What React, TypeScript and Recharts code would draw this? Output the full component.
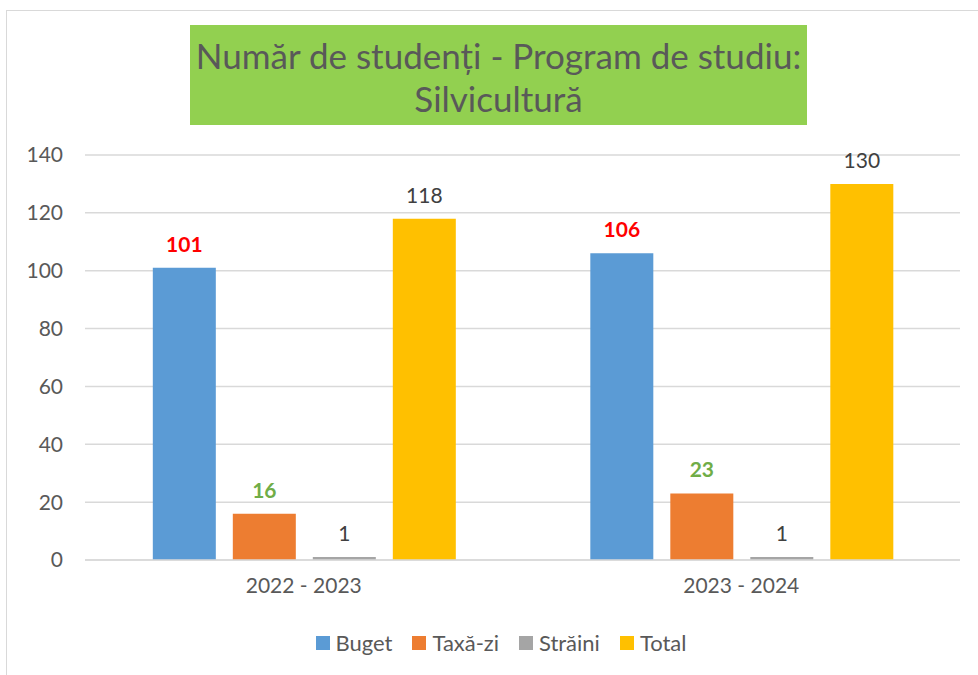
import React from "react";
import {
  BarChart,
  Bar,
  XAxis,
  YAxis,
  CartesianGrid,
  Legend,
  LabelList,
} from "recharts";

const categories = ["2022 - 2023", "2023 - 2024"];
const buget = [101, 106];
const taxa = [16, 23];
const straini = [1, 1];
const total = [118, 130];
const yTicks = [0, 20, 40, 60, 80, 100, 120, 140];

const series = [
  { key: "buget", name: "Buget", color: "#5B9BD5", label: "#FF0000", bold: true },
  { key: "taxa", name: "Taxă-zi", color: "#ED7D31", label: "#70AD47", bold: true },
  { key: "straini", name: "Străini", color: "#A5A5A5", label: "#404040", bold: false },
  { key: "total", name: "Total", color: "#FFC000", label: "#404040", bold: false },
];

const data = categories.map((c, i) => ({
  name: c,
  buget: buget[i],
  taxa: taxa[i],
  straini: straini[i],
  total: total[i],
}));

const font = "Lato, 'Open Sans', sans-serif";
const grey = "#595959";

function LegendContent() {
  return (
    <div
      style={{
        display: "flex",
        justifyContent: "center",
        paddingLeft: 62,
        marginTop: -3,
        fontFamily: font,
        fontSize: 22,
        color: grey,
      }}
    >
      {series.map((s) => (
        <div key={s.key} style={{ display: "flex", alignItems: "center", marginRight: 20 }}>
          <span style={{ width: 14, height: 14, background: s.color, display: "inline-block", marginRight: 6 }} />
          <span>{s.name}</span>
        </div>
      ))}
    </div>
  );
}

export default function App() {
  return (
    <div style={{ position: "absolute", left: 0, top: 0, width: 978, height: 675, background: "#fff" }}>
      <div
        style={{
          position: "absolute",
          left: 6,
          top: 10,
          width: 975,
          height: 670,
          border: "1px solid #D9D9D9",
        }}
      />
      <BarChart
        width={978}
        height={675}
        data={data}
        margin={{ top: 155, right: 18, bottom: 0, left: 0 }}
        barCategoryGap="15.5%"
        barGap={17}
      >
        <CartesianGrid vertical={false} stroke="#D9D9D9" strokeWidth={1.5} />
        <XAxis
          dataKey="name"
          tickLine={false}
          tickSize={0}
          tickMargin={18}
          height={72}
          axisLine={{ stroke: "#D9D9D9", strokeWidth: 1.5 }}
          tick={{ fill: grey, fontSize: 21, fontFamily: font }}
        />
        <YAxis
          domain={[0, 140]}
          ticks={yTicks}
          width={85}
          tickLine={false}
          axisLine={false}
          tickMargin={16}
          tick={{ fill: grey, fontSize: 21, fontFamily: font }}
        />
        <Legend verticalAlign="bottom" height={43} content={<LegendContent />} />
        {series.map((s) => (
          <Bar key={s.key} dataKey={s.key} name={s.name} fill={s.color} isAnimationActive={false}>
            <LabelList
              dataKey={s.key}
              position="top"
              offset={16}
              fill={s.label}
              fontSize={21}
              fontFamily={font}
              fontWeight={s.bold ? 700 : 400}
            />
          </Bar>
        ))}
      </BarChart>
      <div
        style={{
          position: "absolute",
          left: 190,
          top: 25,
          width: 617,
          height: 100,
          background: "#92D050",
          color: grey,
          fontFamily: font,
          fontSize: 35,
          lineHeight: "43px",
          textAlign: "center",
          paddingTop: 9,
          boxSizing: "border-box",
        }}
      >
        Număr de studenți - Program de studiu:
        <br />
        Silvicultură
      </div>
    </div>
  );
}
